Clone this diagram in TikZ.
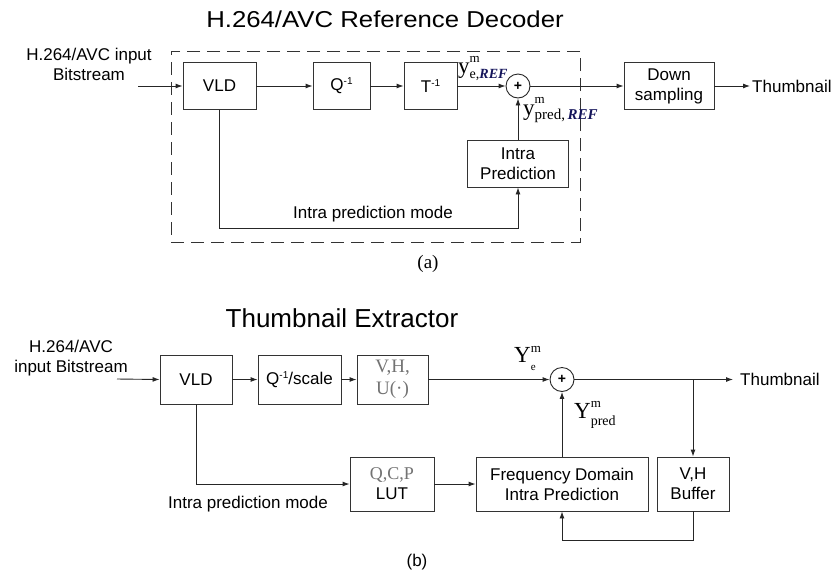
\documentclass[tikz,border=0pt]{standalone}
\usepackage{fontspec}
\setmainfont{Liberation Sans}
\newfontfamily\tnr{Liberation Serif}
\usetikzlibrary{arrows.meta,calc}
\definecolor{refblue}{RGB}{20,20,90}
\definecolor{lgray}{RGB}{115,115,115}
\newcommand\fs[2]{\fontsize{#1}{#2}\selectfont}
\newcommand\REF{\textcolor{refblue}{\bfseries\itshape REF}}
\newcommand\supm[2]{\rlap{\raisebox{#1}{\fs{#2}{#2}m}}}
\newcommand\inv{\raisebox{6pt}{\fs{10}{10}-1}}
\begin{document}
\begin{tikzpicture}[x=1pt,y=-1pt,
  box/.style={draw=black!80, line width=0.9pt, fill=white, align=center, inner sep=0, font=\fs{17}{20}},
  conn/.style={draw=black!85, line width=0.9pt},
  arr/.style={conn, -{Latex[length=7pt,width=5pt]}},
  sumc/.style={circle, draw=black!85, line width=0.9pt, minimum size=24pt, inner sep=0, font=\bfseries\fs{14}{14}},
  lab/.style={font=\fs{17}{20}, inner sep=0, align=center},
  mlab/.style={font=\tnr\fs{23}{23}, inner sep=0, anchor=base west}]
\useasboundingbox (0,0) rectangle (835,574);

% ---------------- (a) Reference decoder ----------------
\node[lab, font=\fs{23}{27}, anchor=base] (t1) at (385,27) {\scalebox{1.12}[1]{H.264/AVC Reference Decoder}};
\node[lab] (in1) at (89,64) {H.264/AVC input\\Bitstream};
\coordinate (i1) at (138,86);
\node[draw=black!80, line width=0.9pt, dash pattern=on 13pt off 7pt, minimum width=409pt, minimum height=191pt, inner sep=0] (dec) at (375.5,146.5) {};

\node[box, minimum width=73pt, minimum height=47pt] (VLD1) at (219.5,86) {VLD};
\node[box, minimum width=57pt, minimum height=47pt] (Q1) at (341.5,86) {Q\inv};
\node[box, minimum width=53pt, minimum height=47pt] (T1) at (430.5,86) {T\inv};
\node[sumc] (sum1) at (518,86) {+};
\node[box, minimum width=101pt, minimum height=47pt] (IP1) at (518,163.5) {Intra\\Prediction};
\node[box, minimum width=90pt, minimum height=47pt] (DS) at (669,86) {Down\\sampling};
\node[lab, anchor=west] (th1) at (752,86) {Thumbnail};
\node[lab, anchor=base] (ipm1) at (373,218) {Intra prediction mode};
\coordinate (c1) at (219.5,228);

\node[mlab] (ye) at (458,73) {y\supm{11pt}{13}\raisebox{-5pt}{\fs{14}{14}e,\REF}};
\node[mlab] (yp) at (523,115) {y\supm{12pt}{13}\raisebox{-4pt}{\fs{15}{15}pred,\,\REF}};

\draw[arr] (i1) -- (VLD1.west);
\draw[arr] (VLD1) -- (Q1);
\draw[arr] (Q1) -- (T1);
\draw[arr] (T1) -- (sum1);
\draw[arr] (sum1) -- (DS);
\draw[arr, shorten >=2pt] (DS) -- (th1);
\draw[arr] (IP1) -- (sum1);
\draw[arr] (VLD1.south) -- (c1) -| (IP1.south);

\node[font=\tnr\fs{19}{19}, inner sep=0] (capa) at (428,264) {(a)};

% ---------------- (b) Thumbnail extractor ----------------
\node[lab, font=\fs{26}{30}, anchor=base] (t2) at (342,327) {Thumbnail Extractor};
\node[lab] (in2) at (71,358) {H.264/AVC\\input Bitstream};
\coordinate (i2) at (117,379);

\node[box, minimum width=72pt, minimum height=49pt] (VLD2) at (196,379.5) {VLD};
\node[box, minimum width=83pt, minimum height=49pt] (QS) at (299.5,379.5) {Q\inv/scale};
\node[box, minimum width=71pt, minimum height=49pt, font=\tnr\fs{19}{22}, text=lgray] (VH) at (392.5,379.5) {V,H,\\U(·)};
\node[sumc] (sum2) at (562,379.5) {+};
\node[lab, anchor=west] (th2) at (740,379.5) {Thumbnail};
\coordinate (br) at (693,379.5);

\node[box, minimum width=84pt, minimum height=54pt] (LUT) at (392,484) {{\tnr\fs{18}{22}\textcolor{lgray}{Q,C,P}}\\LUT};
\node[box, minimum width=172pt, minimum height=54pt] (FD) at (562,484) {Frequency Domain\\Intra Prediction};
\node[box, minimum width=72pt, minimum height=54pt] (VHB) at (693,484) {V,H\\Buffer};
\node[lab, anchor=base] (ipm2) at (248,508) {Intra prediction mode};
\coordinate (c2) at (693,540);

\node[mlab] (Ye) at (514,362) {Y\supm{10pt}{13}\raisebox{-8pt}{\fs{11}{11}e}};
\node[mlab] (Yp) at (574,418) {Y\supm{11pt}{13}\raisebox{-7pt}{\fs{14}{14}pred}};

\draw[arr] (i2) -- (VLD2.west);
\draw[arr] (VLD2) -- (QS);
\draw[arr] (QS) -- (VH);
\draw[arr] (VH) -- (sum2);
\draw[arr, shorten >=7pt] (sum2) -- (th2);
\draw[arr] (br) -- (VHB.north);
\draw[arr] (FD) -- (sum2);
\draw[arr] (VLD2.south) |- (LUT.west);
\draw[arr] (LUT) -- (FD);
\draw[arr] (VHB.south) -- (c2) -| (FD.south);

\node[lab] (capb) at (417,562) {(b)};
\end{tikzpicture}
\end{document}
